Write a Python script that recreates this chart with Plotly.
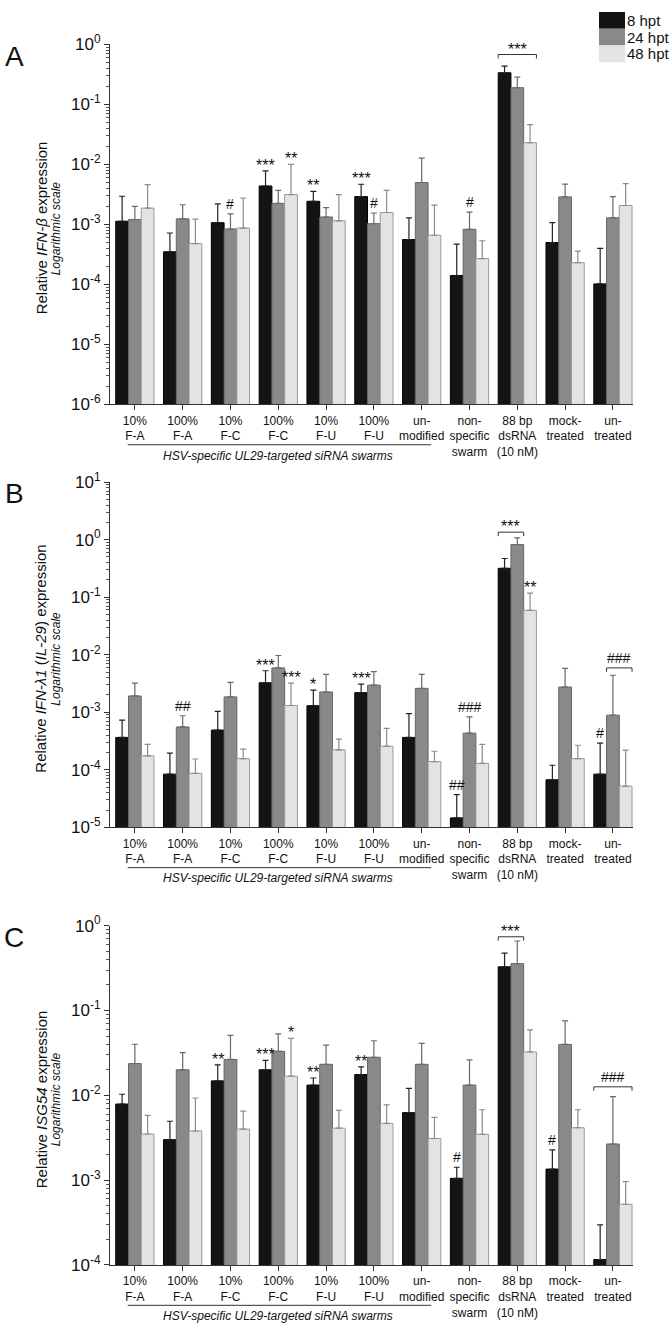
import math
import plotly.graph_objects as go

W, H = 669, 1334

categories = ["10%<br>F-A", "100%<br>F-A", "10%<br>F-C", "100%<br>F-C", "10%<br>F-U", "100%<br>F-U",
              "un-<br>modified", "non-<br>specific<br>swarm", "88 bp<br>dsRNA<br>(10 nM)",
              "mock-<br>treated", "un-<br>treated"]
series_names = ["8 hpt", "24 hpt", "48 hpt"]

# Panel A: IFN-beta  (bar value, top of upper error bar)
a_8h = [1.13e-3, 3.5e-4, 1.07e-3, 4.37e-3, 2.43e-3, 2.91e-3, 5.6e-4, 1.41e-4, 0.337, 5.0e-4, 1.02e-4]
a_8h_top = [2.95e-3, 7.2e-4, 2.2e-3, 7.8e-3, 3.55e-3, 4.68e-3, 1.29e-3, 4.7e-4, 0.435, 1.07e-3, 4.0e-4]
a_24h = [1.21e-3, 1.24e-3, 8.4e-4, 2.24e-3, 1.33e-3, 1.03e-3, 5.0e-3, 8.3e-4, 0.19, 2.88e-3, 1.29e-3]
a_24h_top = [2.0e-3, 2.13e-3, 1.5e-3, 3.7e-3, 1.9e-3, 1.55e-3, 1.27e-2, 1.6e-3, 0.285, 4.7e-3, 2.9e-3]
a_48h = [1.87e-3, 4.8e-4, 8.7e-4, 3.15e-3, 1.15e-3, 1.58e-3, 6.6e-4, 2.7e-4, 0.023, 2.3e-4, 2.07e-3]
a_48h_top = [4.6e-3, 1.23e-3, 2.76e-3, 1.0e-2, 3.15e-3, 3.7e-3, 2.1e-3, 5.35e-4, 0.046, 3.6e-4, 4.8e-3]

# Panel B: IFN-lambda1 (IL-29)
b_8h = [3.65e-4, 8.4e-5, 4.9e-4, 3.25e-3, 1.3e-3, 2.19e-3, 3.65e-4, 1.46e-5, 0.318, 6.7e-5, 8.4e-5]
b_8h_top = [7.3e-4, 1.95e-4, 1.04e-3, 5.27e-3, 2.43e-3, 3.08e-3, 9.5e-4, 3.7e-5, 0.47, 1.2e-4, 2.9e-4]
b_24h = [1.92e-3, 5.55e-4, 1.85e-3, 5.9e-3, 2.25e-3, 2.96e-3, 2.6e-3, 4.33e-4, 0.82, 2.74e-3, 8.9e-4]
b_24h_top = [3.2e-3, 8.7e-4, 3.3e-3, 9.7e-3, 4.56e-3, 5.1e-3, 4.56e-3, 8.3e-4, 1.07, 5.8e-3, 4.4e-3]
b_48h = [1.75e-4, 8.7e-5, 1.56e-4, 1.31e-3, 2.22e-4, 2.57e-4, 1.39e-4, 1.29e-4, 0.059, 1.56e-4, 5.2e-5]
b_48h_top = [2.77e-4, 1.54e-4, 2.28e-4, 3.2e-3, 3.42e-4, 5.25e-4, 2.1e-4, 2.77e-4, 0.118, 2.67e-4, 2.2e-4]

# Panel C: ISG54
c_8h = [7.9e-3, 3.0e-3, 1.48e-2, 2.0e-2, 1.32e-2, 1.76e-2, 6.25e-3, 1.05e-3, 0.327, 1.35e-3, 1.16e-4]
c_8h_top = [1.03e-2, 4.95e-3, 2.28e-2, 2.58e-2, 1.6e-2, 2.17e-2, 1.21e-2, 1.42e-3, 0.474, 2.28e-3, 2.97e-4]
c_24h = [2.37e-2, 2.0e-2, 2.65e-2, 3.3e-2, 2.32e-2, 2.81e-2, 2.32e-2, 1.32e-2, 0.357, 0.0398, 2.67e-3]
c_24h_top = [0.040, 3.18e-2, 0.051, 0.053, 0.039, 0.044, 0.041, 2.62e-2, 0.66, 0.0755, 9.66e-3]
c_48h = [3.5e-3, 3.8e-3, 4.0e-3, 1.68e-2, 4.1e-3, 4.67e-3, 3.1e-3, 3.47e-3, 0.0325, 4.15e-3, 5.2e-4]
c_48h_top = [5.8e-3, 9.3e-3, 6.5e-3, 0.047, 6.65e-3, 7.7e-3, 5.5e-3, 6.76e-3, 0.059, 6.76e-3, 9.6e-4]

# significance marks: (category index, series index, text)
a_marks = [(2, 1, "#"), (3, 0, "***"), (3, 2, "**"), (4, 0, "**"), (5, 0, "***"), (5, 1, "#"), (7, 1, "#")]
b_marks = [(1, 1, "##"), (3, 0, "***"), (3, 2, "***"), (4, 0, "*"), (5, 0, "***"), (7, 0, "##"),
           (7, 1, "###"), (8, 2, "**"), (10, 0, "#")]
c_marks = [(2, 0, "**"), (3, 0, "***"), (3, 2, "*"), (4, 0, "**"), (5, 0, "**"), (7, 0, "#"), (9, 0, "#")]
# brackets: (category, first series, last series, height, text)
a_brackets = [(8, 0, 2, 0.68, "***")]
b_brackets = [(8, 0, 1, 1.35, "***"), (10, 1, 2, 5.9e-3, "###")]
c_brackets = [(8, 0, 1, 0.74, "***"), (10, 0, 2, 1.26e-2, "###")]

a_title = "Relative <i>IFN-β</i> expression"
b_title = "Relative <i>IFN-λ1</i> (<i>IL-29</i>) expression"
c_title = "Relative <i>ISG54</i> expression"
group_label = "HSV-specific UL29-targeted siRNA swarms"

FONT = "Liberation Sans, Arial, sans-serif"
fills = ["#141414", "#898989", "#e3e3e3"]
outlines = ["#000000", "#666666", "#9a9a9a"]
errcol = ["#222222", "#6a6a6a", "#8c8c8c"]

def px(x):
    return x / W

def py(y):
    return 1 - y / H

X_LEFT, X_RIGHT = 110, 633
panels = [
    dict(name="A", vals=[a_8h, a_24h, a_48h], tops=[a_8h_top, a_24h_top, a_48h_top], marks=a_marks,
         brackets=a_brackets, title=a_title, top=33, bottom=399, rng=(-6, 0)),
    dict(name="B", vals=[b_8h, b_24h, b_48h], tops=[b_8h_top, b_24h_top, b_48h_top], marks=b_marks,
         brackets=b_brackets, title=b_title, top=478, bottom=829, rng=(-5, 1)),
    dict(name="C", vals=[c_8h, c_24h, c_48h], tops=[c_8h_top, c_24h_top, c_48h_top], marks=c_marks,
         brackets=c_brackets, title=c_title, top=929, bottom=1274, rng=(-4, 0)),
]

BARGAP = 0.2
BW = (1 - BARGAP) / 3
xs = list(range(len(categories)))

fig = go.Figure()
annotations = []
shapes = []
layout = {}

def mark_font(txt):
    if "*" in txt:
        return dict(family=FONT, size=16, color="#111")
    return dict(family=FONT, size=14, color="#111")

for p_i, p in enumerate(panels):
    sfx = "" if p_i == 0 else str(p_i + 1)
    xa, ya = "x" + sfx, "y" + sfx
    decade_px = (p["bottom"] - p["top"]) / (p["rng"][1] - p["rng"][0])
    for s in range(3):
        vals = p["vals"][s]
        tops = p["tops"][s]
        fig.add_trace(go.Bar(
            x=xs, y=vals, name=series_names[s], showlegend=False,
            marker=dict(color=fills[s], line=dict(color=outlines[s], width=1)),
            error_y=dict(type="data", symmetric=False,
                         array=[t - v for t, v in zip(tops, vals)],
                         arrayminus=[0] * len(vals),
                         color=errcol[s], thickness=1.2, width=3),
            xaxis=xa, yaxis=ya, offsetgroup=str(s)))
    for (ci, si, txt) in p["marks"]:
        top = p["tops"][si][ci]
        annotations.append(dict(x=ci + (si - 1) * BW, y=math.log10(top), xref=xa, yref=ya,
                                text=txt, showarrow=False, xanchor="center", yanchor="bottom",
                                yshift=-5 if "*" in txt else 0, font=mark_font(txt)))
    for (ci, s0, s1, h, txt) in p["brackets"]:
        x0 = ci + (s0 - 1) * BW - BW / 2
        x1 = ci + (s1 - 1) * BW + BW / 2
        drop = 10 ** (-4.0 / decade_px)
        fig.add_trace(go.Scatter(x=[x0, x0, x1, x1], y=[h * drop, h, h, h * drop], mode="lines",
                                 line=dict(color="#333", width=1), showlegend=False,
                                 hoverinfo="skip", xaxis=xa, yaxis=ya))
        annotations.append(dict(x=(x0 + x1) / 2, y=math.log10(h), xref=xa, yref=ya, text=txt,
                                showarrow=False, xanchor="center", yanchor="bottom",
                                yshift=-5 if "*" in txt else 0, font=mark_font(txt)))
    lo, hi = p["rng"]
    tickvals = [10 ** k for k in range(lo, hi + 1)]
    ticktext = ["10<sup>%d</sup>" % k for k in range(lo, hi + 1)]
    layout["xaxis" + sfx] = dict(domain=[px(X_LEFT), px(X_RIGHT)], anchor=ya, range=[-0.52, 10.42],
                                 tickvals=xs, ticktext=categories, ticks="outside", ticklen=5,
                                 tickangle=0, tickcolor="#333", showline=True, linecolor="#333",
                                 linewidth=1, showgrid=False, zeroline=False,
                                 tickfont=dict(family=FONT, size=12, color="#111"))
    layout["yaxis" + sfx] = dict(domain=[py(p["bottom"]), py(p["top"])], anchor=xa, type="log",
                                 range=[lo, hi], tickvals=tickvals, ticktext=ticktext,
                                 ticks="outside", ticklen=5, tickcolor="#333", showline=True,
                                 linecolor="#333", linewidth=1, showgrid=False, zeroline=False,
                                 minor=dict(ticks="outside", ticklen=3, tickcolor="#555",
                                            dtick="D1", showgrid=False),
                                 tickfont=dict(family=FONT, size=17, color="#111"))
    # panel letter
    annotations.append(dict(x=px(14), y=py(p["top"] + 12), xref="paper", yref="paper", text=p["name"],
                            showarrow=False, xanchor="center", yanchor="middle",
                            font=dict(family=FONT, size=28, color="#111")))
    # y titles
    mid = (p["top"] + p["bottom"]) / 2 + 4
    annotations.append(dict(x=px(41), y=py(mid), xref="paper", yref="paper", text=p["title"],
                            textangle=-90, showarrow=False, xanchor="center", yanchor="middle",
                            font=dict(family=FONT, size=15, color="#111")))
    annotations.append(dict(x=px(56), y=py(mid), xref="paper", yref="paper",
                            text="<i>Logarithmic scale</i>", textangle=-90, showarrow=False,
                            xanchor="center", yanchor="middle",
                            font=dict(family=FONT, size=12, color="#111")))
    # group label under first seven categories
    shapes.append(dict(type="line", xref=xa, yref="paper", x0=-0.15, x1=6.2,
                       y0=py(p["bottom"] + 41), y1=py(p["bottom"] + 41),
                       line=dict(color="#333", width=1)))
    annotations.append(dict(x=3.0, y=py(p["bottom"] + 52), xref=xa, yref="paper",
                            text="<i>%s</i>" % group_label, showarrow=False,
                            xanchor="center", yanchor="middle",
                            font=dict(family=FONT, size=12, color="#111")))

# legend (top right)
for s in range(3):
    shapes.append(dict(type="rect", xref="paper", yref="paper", x0=px(599), x1=px(625),
                       y0=py(17 * (s + 1)), y1=py(17 * s), fillcolor=fills[s],
                       line=dict(width=0)))
    annotations.append(dict(x=px(625), y=py(17 * s + 8.5), xref="paper", yref="paper",
                            text=series_names[s], showarrow=False, xanchor="left", yanchor="middle",
                            font=dict(family=FONT, size=15, color="#111")))

fig.update_layout(width=W, height=H, margin=dict(l=0, r=0, t=0, b=0),
                  paper_bgcolor="white", plot_bgcolor="white", barmode="group",
                  bargap=BARGAP, bargroupgap=0, annotations=annotations, shapes=shapes,
                  **layout)
fig.write_html("out.html", config={"displayModeBar": False},
               post_script="document.body.style.margin='0px';")
